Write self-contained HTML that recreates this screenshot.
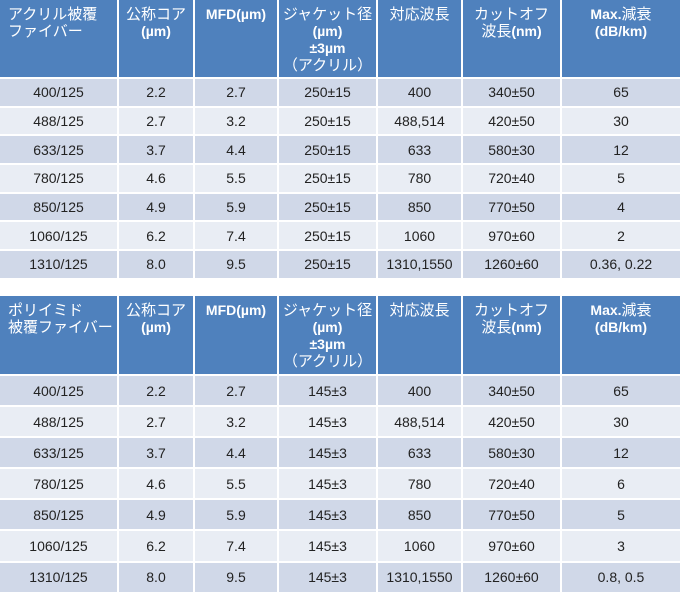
<!DOCTYPE html>
<html><head><meta charset="utf-8"><style>
body{margin:0;width:680px;height:594px;background:#fff;font-family:"Liberation Sans","Noto Sans CJK JP",sans-serif;position:relative;overflow:hidden}
.t{position:absolute;left:0;width:680px;display:grid;grid-template-columns:117px 74px 82px 97px 83px 97px 118px;column-gap:2px;row-gap:2px}
.t>div{display:flex;align-items:center;justify-content:center;font-size:14px;color:#222;text-align:center}
.t>div>span{display:block}
.t .h{background:#4f81bd;color:#fff;align-items:flex-start;padding-top:6px;line-height:17px;font-size:15px;box-sizing:border-box}
.t .h.l{justify-content:flex-start;padding-left:8px;text-align:left}
.t .h b{font-size:14px}
.a{background:#d0d8e8}.c{background:#e9edf4}
#t1{top:0;grid-template-rows:77px repeat(7,26.7px)}
#t2{top:296px;grid-template-rows:78px repeat(7,29.1px)}
</style></head><body>
<div class="t" id="t1">
<div class="h l"><span>アクリル被覆<br>ファイバー</span></div><div class="h"><span>公称コア<br><b>(µm)</b></span></div><div class="h"><span><b>MFD(µm)</b></span></div><div class="h"><span>ジャケット径<br><b>(µm)</b><br><b>±3µm</b><br>（アクリル）</span></div><div class="h"><span>対応波長</span></div><div class="h"><span>カットオフ<br>波長<b>(nm)</b></span></div><div class="h"><span><b>Max.</b>減衰<br><b>(dB/km)</b></span></div>
<div class="a">400/125</div><div class="a">2.2</div><div class="a">2.7</div><div class="a">250±15</div><div class="a">400</div><div class="a">340±50</div><div class="a">65</div>
<div class="c">488/125</div><div class="c">2.7</div><div class="c">3.2</div><div class="c">250±15</div><div class="c">488,514</div><div class="c">420±50</div><div class="c">30</div>
<div class="a">633/125</div><div class="a">3.7</div><div class="a">4.4</div><div class="a">250±15</div><div class="a">633</div><div class="a">580±30</div><div class="a">12</div>
<div class="c">780/125</div><div class="c">4.6</div><div class="c">5.5</div><div class="c">250±15</div><div class="c">780</div><div class="c">720±40</div><div class="c">5</div>
<div class="a">850/125</div><div class="a">4.9</div><div class="a">5.9</div><div class="a">250±15</div><div class="a">850</div><div class="a">770±50</div><div class="a">4</div>
<div class="c">1060/125</div><div class="c">6.2</div><div class="c">7.4</div><div class="c">250±15</div><div class="c">1060</div><div class="c">970±60</div><div class="c">2</div>
<div class="a">1310/125</div><div class="a">8.0</div><div class="a">9.5</div><div class="a">250±15</div><div class="a">1310,1550</div><div class="a">1260±60</div><div class="a">0.36, 0.22</div>
</div>
<div class="t" id="t2">
<div class="h l"><span>ポリイミド<br>被覆ファイバー</span></div><div class="h"><span>公称コア<br><b>(µm)</b></span></div><div class="h"><span><b>MFD(µm)</b></span></div><div class="h"><span>ジャケット径<br><b>(µm)</b><br><b>±3µm</b><br>（アクリル）</span></div><div class="h"><span>対応波長</span></div><div class="h"><span>カットオフ<br>波長<b>(nm)</b></span></div><div class="h"><span><b>Max.</b>減衰<br><b>(dB/km)</b></span></div>
<div class="a">400/125</div><div class="a">2.2</div><div class="a">2.7</div><div class="a">145±3</div><div class="a">400</div><div class="a">340±50</div><div class="a">65</div>
<div class="c">488/125</div><div class="c">2.7</div><div class="c">3.2</div><div class="c">145±3</div><div class="c">488,514</div><div class="c">420±50</div><div class="c">30</div>
<div class="a">633/125</div><div class="a">3.7</div><div class="a">4.4</div><div class="a">145±3</div><div class="a">633</div><div class="a">580±30</div><div class="a">12</div>
<div class="c">780/125</div><div class="c">4.6</div><div class="c">5.5</div><div class="c">145±3</div><div class="c">780</div><div class="c">720±40</div><div class="c">6</div>
<div class="a">850/125</div><div class="a">4.9</div><div class="a">5.9</div><div class="a">145±3</div><div class="a">850</div><div class="a">770±50</div><div class="a">5</div>
<div class="c">1060/125</div><div class="c">6.2</div><div class="c">7.4</div><div class="c">145±3</div><div class="c">1060</div><div class="c">970±60</div><div class="c">3</div>
<div class="a">1310/125</div><div class="a">8.0</div><div class="a">9.5</div><div class="a">145±3</div><div class="a">1310,1550</div><div class="a">1260±60</div><div class="a">0.8, 0.5</div>
</div>
</body></html>
